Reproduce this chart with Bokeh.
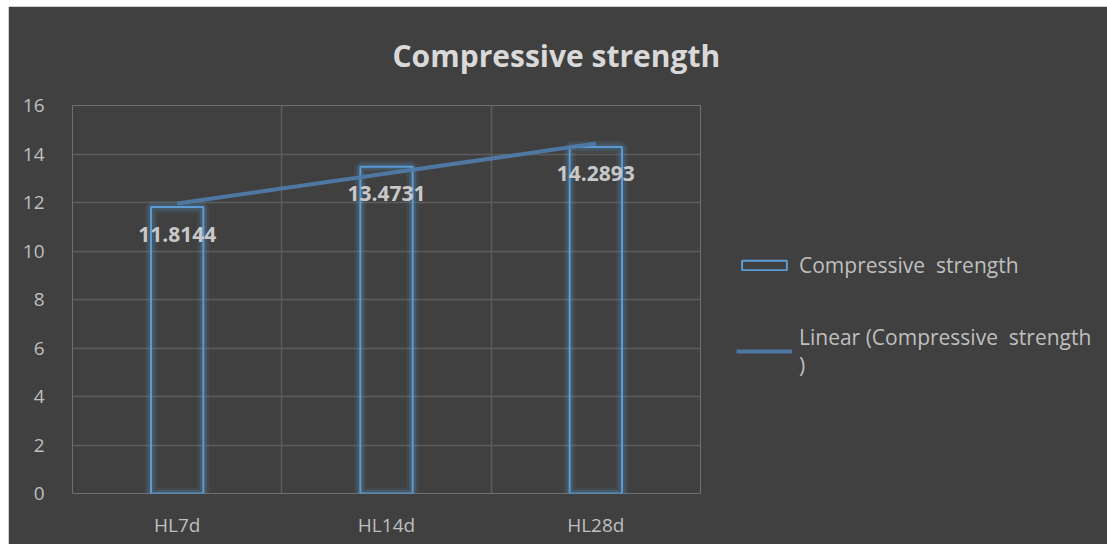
import numpy as np
from bokeh.plotting import figure
from bokeh.models import ColumnDataSource, FixedTicker, Legend, LegendItem
from bokeh.core.properties import value
from bokeh.embed import file_html
from bokeh.resources import INLINE

categories = ["HL7d", "HL14d", "HL28d"]
strength = [11.8144, 13.4731, 14.2893]
y_ticks = [0, 2, 4, 6, 8, 10, 12, 14, 16]
title_text = "Compressive  strength"
series_name = "Compressive  strength"
trend_name = "Linear (Compressive  strength\n)"

xs = list(range(1, len(categories) + 1))
labels = [f"{v:.4f}" for v in strength]
src = ColumnDataSource(dict(x=xs, y=strength, lab=labels))

coef = np.polyfit(xs, strength, 1)
trend_y = [float(np.polyval(coef, x)) for x in xs]

BG = "#404040"
FONT = "Open Sans"
p = figure(frame_width=628, frame_height=388,
           x_range=(0.5, len(categories) + 0.5), y_range=(0, 16),
           output_backend="svg", toolbar_location=None,
           background_fill_color=BG, border_fill_color=BG,
           min_border_left=64, min_border_right=407, min_border_top=99, min_border_bottom=51)
p.margin = (6, 0, 0, 8)
p.outline_line_color = None

# axes
p.xaxis.ticker = FixedTicker(ticks=xs)
p.xaxis.major_label_overrides = {x: c for x, c in zip(xs, categories)}
p.yaxis.ticker = FixedTicker(ticks=y_ticks)
for ax in (p.xaxis[0], p.yaxis[0]):
    ax.axis_line_color = None
    ax.major_tick_line_color = None
    ax.minor_tick_line_color = None
    ax.major_label_text_color = "#bfbfbf"
    ax.major_label_text_font = FONT
    ax.major_label_text_font_size = "19px"
p.yaxis.major_label_standoff = 22
p.xaxis.major_label_standoff = 12

p.xgrid.ticker = FixedTicker(ticks=[x - 0.5 for x in xs] + [len(xs) + 0.5])
p.xgrid.grid_line_color = "#5c5c5c"
p.ygrid.grid_line_color = "#5c5c5c"
p.xgrid.grid_line_width = 1.5
p.ygrid.grid_line_width = 1.5

# glow
for w, a in [(12, 0.1), (7, 0.18)]:
    p.vbar(x="x", top="y", width=0.25, source=src, fill_alpha=0,
           line_color="#5b9bd5", line_alpha=a, line_width=w)
bars = p.vbar(x="x", top="y", width=0.25, source=src, fill_alpha=0,
              line_color="#5b9bd5", line_width=2)

trend = p.line(xs, trend_y, line_color="#4f7aa6", line_width=4, line_alpha=0.95)

p.text(x="x", y="y", text="lab", source=src, text_align="center", text_baseline="middle",
       y_offset=27, text_color="#c8c8c8", text_font=value(FONT),
       text_font_style="bold", text_font_size="21px")

# title
p.title.text = title_text
p.title.align = "left"
p.title.offset = 320
p.title.text_font = FONT
p.title.text_font_size = "30px"
p.title.text_font_style = "bold"
p.title.text_color = "#d9d9d9"
p.title.vertical_align = "top"
p.title.standoff = 56

legend = Legend(items=[LegendItem(label=series_name, renderers=[bars]),
                       LegendItem(label=trend_name, renderers=[trend])],
                location=(36, 114), background_fill_alpha=0, border_line_color=None,
                label_text_color="#bfbfbf", label_text_font=FONT, label_text_font_size="21px",
                glyph_width=56, glyph_height=12, spacing=44, label_standoff=7,
                padding=0, margin=0)
p.add_layout(legend, "right")

open("out.html", "w").write(file_html(p, INLINE))
